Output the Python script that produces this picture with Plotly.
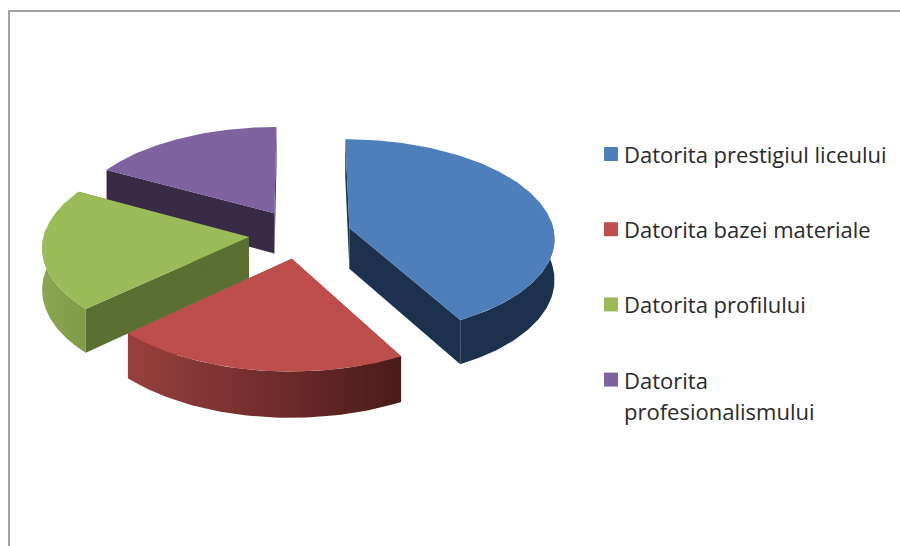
import math
import plotly.graph_objects as go

categories = ["Datorita prestigiul liceului", "Datorita bazei materiale", "Datorita profilului", "Datorita<br>profesionalismului"]
values = [42, 21, 20, 17]
top_colors = ["#4e7fba", "#bd4e4b", "#9bbb59", "#7f62a0"]
face_colors = ["#1c314d", "#7a2f2d", "#5c6f33", "#392b45"]
arc_gradients = [
    ["#1c314d", "#1c314d"],
    ["#99403e", "#4a1b19"],
    ["#8aa650", "#7f9b48"],
    ["#392b45", "#392b45"],
]
draw_order = [3, 0, 2, 1]

W, H = 900, 546
CX, CY, RX, RY, PERSP, DEPTH, PULL = 300.0, 234.0, 205.0, 97.8, 0.091, 41.0, 0.25
N = 60


def project(u, v, z=0.0):
    s = 1.0 / (1.0 + PERSP * v)
    return CX + RX * u * s, CY - RY * v * s + DEPTH * z * s


def rim_point(ax, ay, deg):
    t = math.radians(deg)
    return ax + math.sin(t), ay + math.cos(t)


fig = go.Figure()

# slice angle extents derived from the values
total = sum(values)
extents = []
acc = 0.0
for val in values:
    extents.append((acc, acc + 360.0 * val / total))
    acc += 360.0 * val / total


def poly(points, name, **kw):
    fig.add_trace(go.Scatter(
        x=[p[0] for p in points] + [points[0][0]],
        y=[p[1] for p in points] + [points[0][1]],
        mode="lines", fill="toself", line=dict(width=0),
        name=name, showlegend=False, hoverinfo="skip", **kw))


for i in draw_order:
    a0, a1 = extents[i]
    mid = math.radians((a0 + a1) / 2)
    ax, ay = PULL * math.sin(mid), PULL * math.cos(mid)
    name = categories[i].replace("<br>", " ")

    # cut faces
    for a in (a0, a1):
        u, v = rim_point(ax, ay, a)
        poly([project(ax, ay), project(u, v), project(u, v, 1), project(ax, ay, 1)],
             name, fillcolor=face_colors[i])

    # outer wall (front half only)
    lo, hi = max(a0, 85.0), min(a1, 275.0)
    if hi > lo:
        angs = [lo + (hi - lo) * k / N for k in range(N + 1)]
        rim = [rim_point(ax, ay, a) for a in angs]
        pts = [project(u, v) for u, v in rim] + [project(u, v, 1) for u, v in reversed(rim)]
        xs = [p[0] for p in pts]
        fig.add_trace(go.Scatter(
            x=xs + [xs[0]], y=[p[1] for p in pts] + [pts[0][1]],
            mode="lines", line=dict(width=0), fill="toself",
            fillgradient=dict(type="horizontal", colorscale=[[0, arc_gradients[i][0]], [1, arc_gradients[i][1]]]),
            name=name, showlegend=False, hoverinfo="skip"))

    # top surface
    angs = [a0 + (a1 - a0) * k / (2 * N) for k in range(2 * N + 1)]
    pts = [project(ax, ay)] + [project(*rim_point(ax, ay, a)) for a in angs]
    poly(pts, name, fillcolor=top_colors[i])

# legend drawn to the original's spacing
LEG_X, LEG_Y, LEG_STEP, SW, LINE = 604, 154, 75.2, 14, 31
shapes = [dict(type="rect", xref="x", yref="y", x0=9, y0=11, x1=W + 20, y1=H + 20,
               line=dict(color="#a2a2a2", width=2), fillcolor="rgba(0,0,0,0)", layer="below")]
annotations = []
for i, cat in enumerate(categories):
    yc = LEG_Y + LEG_STEP * i
    shapes.append(dict(type="rect", xref="x", yref="y", x0=LEG_X, x1=LEG_X + SW,
                       y0=yc - SW / 2, y1=yc + SW / 2, fillcolor=top_colors[i], line=dict(width=0)))
    for j, part in enumerate(cat.split("<br>")):
        annotations.append(dict(x=625, y=yc + LINE * j, xref="x", yref="y", text=part, showarrow=False,
                                xanchor="left", yanchor="middle", align="left", xshift=-3,
                                font=dict(family="Open Sans", size=22, color="#2a2a2a")))

fig.update_layout(
    width=W, height=H, margin=dict(l=0, r=0, t=0, b=0),
    paper_bgcolor="#fefefe", plot_bgcolor="#fefefe", showlegend=False,
    shapes=shapes, annotations=annotations,
    xaxis=dict(range=[0, W], visible=False, fixedrange=True),
    yaxis=dict(range=[H, 0], visible=False, fixedrange=True),
)
fig.write_html("out.html", config={"displayModeBar": False},
               post_script="document.body.style.margin='0';document.documentElement.style.overflow='hidden';")
